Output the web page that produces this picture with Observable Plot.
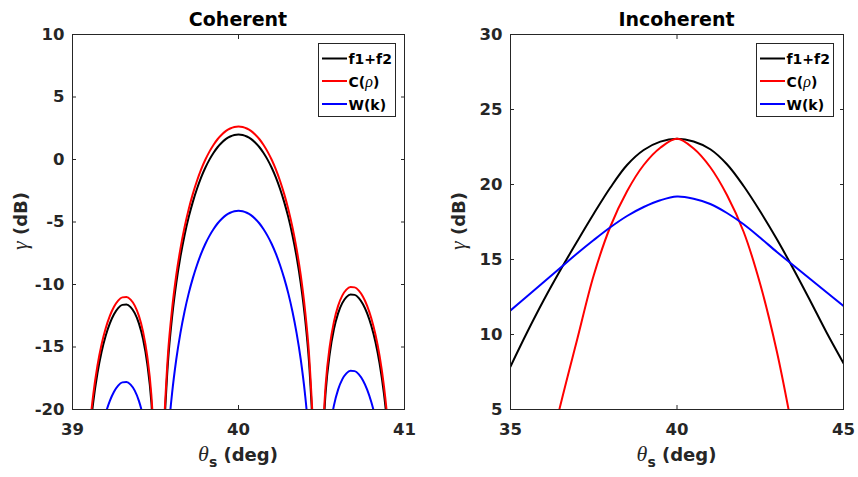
<!DOCTYPE html>
<html>
<head>
<meta charset="utf-8">
<script src="https://cdn.jsdelivr.net/npm/d3@7"></script>
<script src="https://cdn.jsdelivr.net/npm/@observablehq/plot@0.6"></script>
<style>
  body { margin: 0; background: white; }
  #root { position: relative; width: 858px; height: 477px; background: white; }
  #root > svg { position: absolute; top: 0; }
</style>
</head>
<body>
<div id="root"></div>
<script>
// ---------- Coherent panel data ----------
const cohX = [39.075,39.1,39.125,39.15,39.175,39.2,39.225,39.25,39.275,39.3,39.325,39.35,39.375,39.4,39.425,39.45,39.475,39.5,
  39.525,
  39.55,39.575,39.6,39.625,39.65,39.675,39.7,39.725,39.75,39.775,39.8,39.825,39.85,39.875,39.9,39.925,39.95,39.975,40,
  40.025,40.05,40.075,40.1,40.125,40.15,40.175,40.2,40.225,40.25,40.275,40.3,40.325,40.35,40.375,40.4,40.425,40.45,
  40.475,
  40.5,40.525,40.55,40.575,40.6,40.625,40.65,40.675,40.7,40.725,40.75,40.775,40.8,40.825,40.85,40.875,40.9,40.925];
const cohF = [-27.90,-22.64,-19.41,-17.12,-15.40,-14.10,-13.11,-12.38,-11.89,-11.63,-11.60,-11.81,-12.29,-13.11,-14.37,-16.31,-19.42,-25.48,
  null,
  -22.16,-16.24,-12.59,-9.90,-7.79,-6.06,-4.61,-3.39,-2.34,-1.43,-0.66,-0.01,0.54,1.00,1.36,1.65,1.84,1.96,2.00,
  1.96,1.84,1.65,1.36,1.00,0.54,-0.01,-0.66,-1.43,-2.34,-3.39,-4.61,-6.06,-7.79,-9.90,-12.59,-16.24,-22.16,
  null,
  -24.68,-18.62,-15.51,-13.57,-12.31,-11.49,-11.01,-10.80,-10.83,-11.09,-11.58,-12.31,-13.30,-14.60,-16.32,-18.61,-21.84,-27.10];
const cohC = [-27.30,-22.04,-18.81,-16.52,-14.80,-13.50,-12.51,-11.78,-11.29,-11.03,-11.00,-11.21,-11.69,-12.51,-13.77,-15.71,-18.82,-24.88,
  null,
  -21.52,-15.60,-11.95,-9.26,-7.15,-5.42,-3.97,-2.75,-1.70,-0.79,-0.02,0.63,1.18,1.64,2.00,2.29,2.48,2.60,2.64,
  2.60,2.48,2.29,2.00,1.64,1.18,0.63,-0.02,-0.79,-1.70,-2.75,-3.97,-5.42,-7.15,-9.26,-11.95,-15.60,-21.52,
  null,
  -24.08,-18.02,-14.91,-12.97,-11.71,-10.89,-10.41,-10.20,-10.23,-10.49,-10.98,-11.71,-12.70,-14.00,-15.72,-18.01,-21.24,-26.50];
const cohW = [-34.10,-28.84,-25.61,-23.32,-21.60,-20.30,-19.31,-18.58,-18.09,-17.83,-17.80,-18.01,-18.49,-19.31,-20.57,-22.51,-25.62,-31.68,
  null,
  -28.26,-22.34,-18.69,-16.00,-13.89,-12.16,-10.71,-9.49,-8.44,-7.53,-6.76,-6.11,-5.56,-5.10,-4.74,-4.45,-4.26,-4.14,-4.10,
  -4.14,-4.26,-4.45,-4.74,-5.10,-5.56,-6.11,-6.76,-7.53,-8.44,-9.49,-10.71,-12.16,-13.89,-16.00,-18.69,-22.34,-28.26,
  null,
  -30.78,-24.72,-21.61,-19.67,-18.41,-17.59,-17.11,-16.90,-16.93,-17.19,-17.68,-18.41,-19.40,-20.70,-22.42,-24.71,-27.94,-33.20];
const cohXTicks = [39, 40, 41];
const cohYTicks = [-20, -15, -10, -5, 0, 5, 10];

// ---------- Incoherent panel data ----------
const incX = [35,35.5,36,36.5,37,37.5,38,38.5,39,39.5,40,40.5,41,41.5,42,42.5,43,43.5,44,44.5,45];
const incF = [7.87,10.15,12.30,14.30,16.20,18.05,19.80,21.30,22.30,22.86,23.05,22.87,22.35,21.35,19.90,18.20,16.35,14.35,12.25,10.10,8.09];
const incC = [null,null,0.5,5.3,9.65,13.95,17.2,19.55,21.3,22.45,23.05,22.4,21.15,19.3,16.85,13.35,8.85,3.25,-2.95,null,null];
const incW = [11.6,12.55,13.5,14.45,15.4,16.3,17.15,17.9,18.5,18.95,19.2,19.05,18.7,18.1,17.35,16.45,15.5,14.6,13.7,12.8,11.9];
const incXTicks = [35, 40, 45];
const incYTicks = [5, 10, 15, 20, 25, 30];

const seriesNames = ["f1+f2", "C(ρ)", "W(k)"];
const seriesColors = ["#000000", "#ff0000", "#0000ff"];

const INK = "#262626";
const SANS = "DejaVu Sans";
const SERIF = "Liberation Serif";
const fmt = d => String(d);

function table(xs, ys) { return xs.map((x, i) => ({x, y: ys[i]})); }

function panel({xs, series, xDomain, yDomain, xTicks, yTicks, marginLeft, marginRight, curve, title, left, legendX}) {
  const W = 429, H = 477;
  const svg = Plot.plot({
    width: W, height: H,
    marginLeft, marginRight, marginTop: 34, marginBottom: 68,
    style: {fontFamily: SANS, fontWeight: "bold", fontSize: "16px", color: INK, background: "white", overflow: "visible"},
    x: {domain: xDomain},
    y: {domain: yDomain},
    marks: [
      ...series.map((ys, k) => Plot.line(table(xs, ys), {x: "x", y: "y", stroke: seriesColors[k], strokeWidth: 2, curve, clip: true})),
      Plot.frame({stroke: INK, strokeWidth: 1}),
      // tick labels
      Plot.axisX({anchor: "bottom", ticks: xTicks, tickFormat: fmt, tickSize: 0, tickPadding: 14, fontSize: 16.5, label: null, fill: INK}),
      Plot.axisY({anchor: "left", ticks: yTicks, tickFormat: fmt, tickSize: 0, tickPadding: 8, fontSize: 16.5, label: null, fill: INK}),
      // inward ticks on all four sides
      Plot.axisX({anchor: "bottom", ticks: xTicks, tickSize: 4, dy: -4, tickFormat: () => "", label: null, stroke: INK}),
      Plot.axisX({anchor: "top", ticks: xTicks, tickSize: 4, dy: 4, tickFormat: () => "", label: null, stroke: INK}),
      Plot.axisY({anchor: "left", ticks: yTicks, tickSize: 4, dx: 4, tickFormat: () => "", label: null, stroke: INK}),
      Plot.axisY({anchor: "right", ticks: yTicks, tickSize: 4, dx: -4, tickFormat: () => "", label: null, stroke: INK})
    ]
  });
  svg.style.left = left + "px";
  const s = d3.select(svg);
  const cx = marginLeft + (W - marginLeft - marginRight) / 2;
  // title
  s.append("text").attr("x", cx).attr("y", 26).attr("text-anchor", "middle")
    .attr("font-family", SANS).attr("font-weight", "bold").attr("font-size", 19).attr("fill", "#000").text(title);
  // x label
  const xl = s.append("text").attr("x", cx).attr("y", 461).attr("text-anchor", "middle")
    .attr("font-family", SANS).attr("font-weight", "bold").attr("font-size", 18).attr("fill", INK);
  xl.append("tspan").attr("font-family", SERIF).attr("font-style", "italic").attr("font-weight", "normal").attr("font-size", 22).text("θ");
  xl.append("tspan").attr("font-size", 14).attr("dy", 6).text("s");
  xl.append("tspan").attr("dy", -6).text(" (deg)");
  // y label
  const yl = s.append("text").attr("transform", `translate(${marginLeft - 45},221) rotate(-90)`).attr("text-anchor", "middle")
    .attr("font-family", SANS).attr("font-weight", "bold").attr("font-size", 18).attr("fill", INK);
  yl.append("tspan").attr("font-family", SERIF).attr("font-style", "italic").attr("font-weight", "normal").attr("font-size", 22).text("γ");
  yl.append("tspan").text(" (dB)");
  // legend
  const g = s.append("g").attr("transform", `translate(${legendX},43.5)`);
  g.append("rect").attr("x", 0).attr("y", 0).attr("width", 77).attr("height", 73)
    .attr("fill", "white").attr("stroke", INK).attr("stroke-width", 1);
  const rows = [15, 37.5, 60.5];
  seriesNames.forEach((name, k) => {
    g.append("line").attr("x1", 3.5).attr("x2", 28.5).attr("y1", rows[k]).attr("y2", rows[k])
      .attr("stroke", seriesColors[k]).attr("stroke-width", 2);
    const t = g.append("text").attr("x", 30).attr("y", rows[k] + 5.5).attr("text-anchor", "start")
      .attr("font-family", SANS).attr("font-weight", "bold").attr("font-size", 14).attr("fill", "#000");
    if (name === "C(ρ)") {
      t.append("tspan").text("C(");
      t.append("tspan").attr("font-family", SERIF).attr("font-style", "italic").attr("font-weight", "normal").attr("font-size", 16).text("ρ");
      t.append("tspan").text(")");
    } else {
      t.text(name);
    }
  });
  return svg;
}

const root = document.getElementById("root");
root.appendChild(panel({
  xs: cohX, series: [cohF, cohC, cohW], xDomain: [39, 41], yDomain: [-20, 10],
  xTicks: cohXTicks, yTicks: cohYTicks, marginLeft: 72, marginRight: 25,
  curve: "monotone-x", title: "Coherent", left: 0, legendX: 318.5
}));
root.appendChild(panel({
  xs: incX, series: [incF, incC, incW], xDomain: [35, 45], yDomain: [5, 30],
  xTicks: incXTicks, yTicks: incYTicks, marginLeft: 81, marginRight: 15,
  curve: "catmull-rom", title: "Incoherent", left: 429, legendX: 327.5
}));
</script>
</body>
</html>
